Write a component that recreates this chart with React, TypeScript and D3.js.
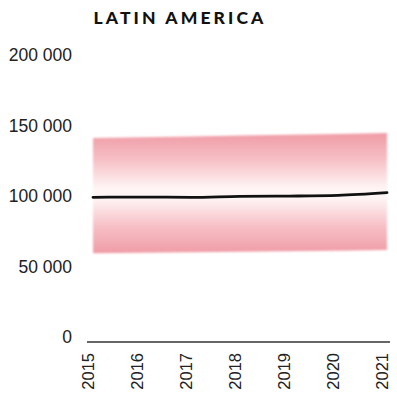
import React from "react";
import * as d3 from "d3";

// Annual values for Latin America
const years = [2015, 2016, 2017, 2018, 2019, 2020, 2021];
const central = [102600, 102800, 102600, 103300, 103500, 104000, 105900];
const upper = [144700, 145200, 145800, 146400, 146900, 147500, 148200];
const lower = [62900, 63300, 63600, 64000, 64400, 64800, 65200];
const yTicks = [0, 50000, 100000, 150000, 200000];
const title = "LATIN AMERICA";

const W = 397;
const H = 396;

const fmt = (v: number) => d3.format(",")(v).replace(/,/g, " ");

export default function App() {
  const x = d3.scalePoint<number>().domain(years).range([93, 387]);
  const y = d3.scaleLinear().domain([0, 200000]).range([342, 60]);

  const rows = years.map((yr, i) => ({ yr, c: central[i], hi: upper[i], lo: lower[i] }));

  const band = d3
    .area<(typeof rows)[number]>()
    .x((d) => x(d.yr)!)
    .y0((d) => y(d.lo))
    .y1((d) => y(d.hi));

  const line = d3
    .line<(typeof rows)[number]>()
    .x((d) => x(d.yr)!)
    .y((d) => y(d.c))
    .curve(d3.curveMonotoneX);

  const x0 = x(years[0])!;
  const x1 = x(years[years.length - 1])!;

  return (
    <svg
      width={W}
      height={H}
      style={{ position: "absolute", left: 0, top: 0, background: "#fff" }}
    >
      <defs>
        <linearGradient id="bandFill" x1="0" y1="0" x2="0" y2="1">
          <stop offset="0" stopColor="#f09ca6" />
          <stop offset="0.22" stopColor="#f6bfc5" />
          <stop offset="0.46" stopColor="#fff5f5" />
          <stop offset="0.54" stopColor="#fff5f5" />
          <stop offset="0.78" stopColor="#f6bfc5" />
          <stop offset="1" stopColor="#f09ca6" />
        </linearGradient>
        <filter id="soft" x="-5%" y="-5%" width="110%" height="110%">
          <feGaussianBlur stdDeviation="0.8" />
        </filter>
      </defs>

      <text
        x={180}
        y={17}
        textAnchor="middle"
        dominantBaseline="central"
        fontFamily="Lato, 'DejaVu Sans', sans-serif"
        fontWeight={900}
        fontSize={17.5}
        letterSpacing={3.1}
        fill="#111"
      >
        {title}
      </text>

      {yTicks.map((t) => (
        <text
          key={t}
          x={72}
          y={y(t) - 5}
          textAnchor="end"
          dominantBaseline="central"
          fontFamily="'Liberation Sans', Arial, sans-serif"
          fontSize={17.5}
          fill="#222"
        >
          {fmt(t)}
        </text>
      ))}

      <path d={band(rows)!} fill="url(#bandFill)" filter="url(#soft)" />
      <path d={line(rows)!} fill="none" stroke="#111" strokeWidth={2.8} strokeLinecap="round" />

      <line x1={x0 - 6} x2={x1 + 3} y1={y(0)} y2={y(0)} stroke="#333" strokeWidth={1.6} />

      {years.map((yr) => (
        <text
          key={yr}
          transform={`translate(${x(yr)! - 5},${353}) rotate(-90)`}
          textAnchor="end"
          dominantBaseline="central"
          fontFamily="'Liberation Sans', Arial, sans-serif"
          fontSize={16.5}
          fill="#222"
        >
          {yr}
        </text>
      ))}
    </svg>
  );
}
